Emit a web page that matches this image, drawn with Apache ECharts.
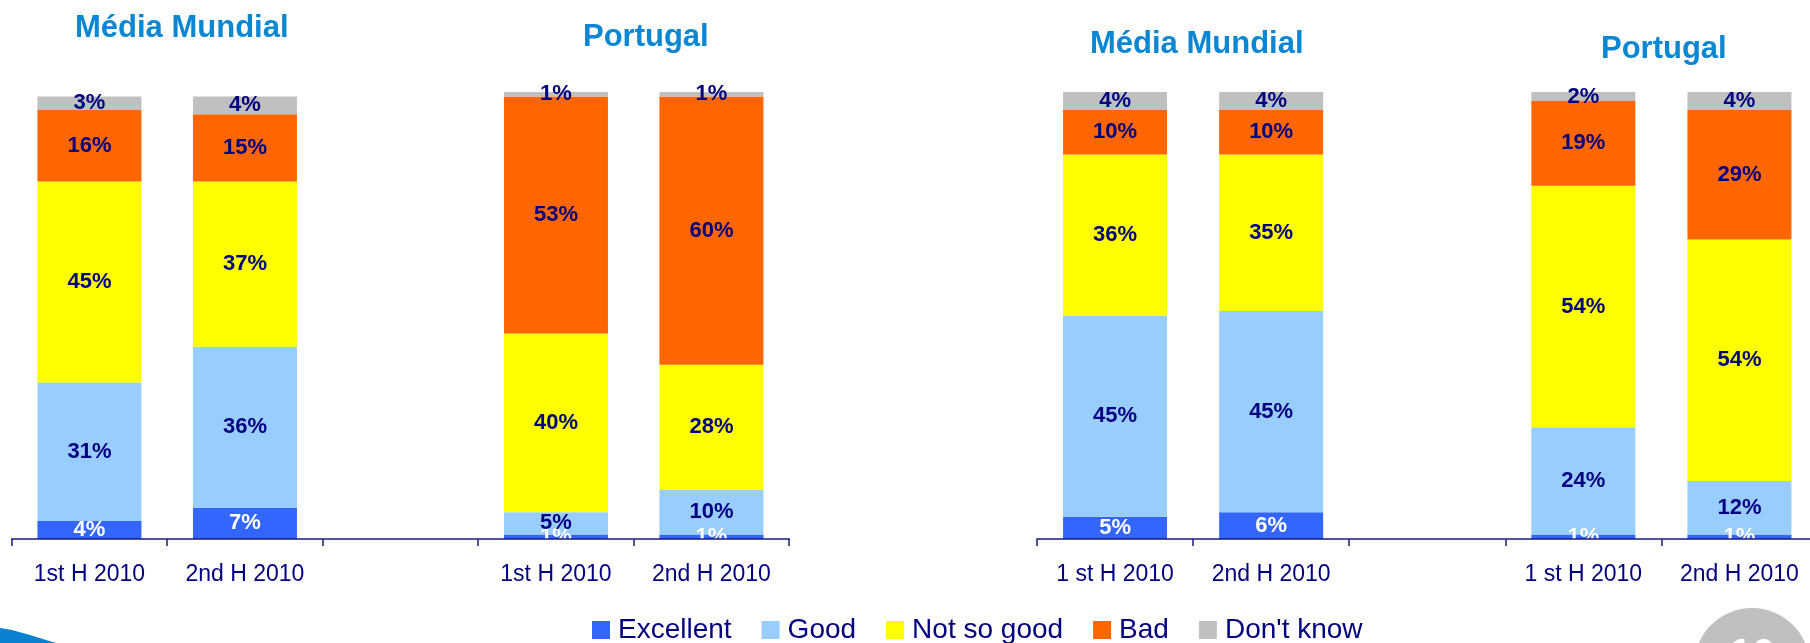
<!DOCTYPE html>
<html>
<head>
<meta charset="utf-8">
<script src="https://cdn.jsdelivr.net/npm/echarts@6/dist/echarts.min.js"></script>
<style>
html,body{margin:0;padding:0;background:#fff;}
#main{width:1810px;height:643px;}
</style>
</head>
<body>
<div id="main"></div>
<script>
// ---- data ----
const categoriesLeft = ['1st H 2010', '2nd H 2010', '', '1st H 2010', '2nd H 2010'];
const categoriesRight = ['1 st H 2010', '2nd H 2010', '', '1 st H 2010', '2nd H 2010'];
const seriesNames = ['Excellent', 'Good', 'Not so good', 'Bad', "Don't know"];
const titles = ['Média Mundial', 'Portugal', 'Média Mundial', 'Portugal'];

const excellentLeft = [4, 7, '-', 1, 1];
const goodLeft = [31, 36, '-', 5, 10];
const notSoGoodLeft = [45, 37, '-', 40, 28];
const badLeft = [16, 15, '-', 53, 60];
const dontKnowLeft = [3, 4, '-', 1, 1];

const excellentRight = [5, 6, '-', 1, 1];
const goodRight = [45, 45, '-', 24, 12];
const notSoGoodRight = [36, 35, '-', 54, 54];
const badRight = [10, 10, '-', 19, 29];
const dontKnowRight = [4, 4, '-', 2, 4];

// ---- styling ----
const colors = ['#3366FF', '#99CCFF', '#FFFF00', '#FF6600', '#C0C0C0'];
const navy = '#000080';
const font = "'Liberation Sans', Arial, sans-serif";

const leftData = [excellentLeft, goodLeft, notSoGoodLeft, badLeft, dontKnowLeft];
const rightData = [excellentRight, goodRight, notSoGoodRight, badRight, dontKnowRight];

function makeSeries(dataSets, gridIdx) {
  return dataSets.map((d, i) => ({
    name: seriesNames[i],
    type: 'bar',
    stack: 'S' + gridIdx,
    xAxisIndex: gridIdx,
    yAxisIndex: gridIdx,
    barWidth: 104,
    data: d,
    itemStyle: { color: colors[i] },
    label: {
      show: true,
      position: 'inside',
      formatter: '{c}%',
      fontFamily: font,
      fontSize: 22,
      fontWeight: 'bold',
      color: i === 0 ? '#FFFFFF' : navy,
      textBorderWidth: 0
    },
    emphasis: { disabled: true }
  }));
}

function makeXAxis(cats, gridIdx) {
  return {
    type: 'category',
    gridIndex: gridIdx,
    data: cats,
    boundaryGap: true,
    z: 5,
    axisLine: { show: true, lineStyle: { color: '#1A1A80', width: 1.5 } },
    axisTick: { show: true, length: 7, interval: 0, lineStyle: { color: '#1A1A80', width: 1.5 } },
    axisLabel: { interval: 0, color: navy, fontFamily: font, fontSize: 23, margin: 24 },
    splitLine: { show: false }
  };
}

function makeYAxis(gridIdx) {
  return {
    type: 'value', gridIndex: gridIdx, min: 0, max: 100, show: false,
    splitLine: { show: false }
  };
}

const titleLayout = [
  { left: 75, top: 13 },
  { left: 583, top: 22 },
  { left: 1090, top: 29 },
  { left: 1601, top: 34 }
];

const option = {
  animation: false,
  backgroundColor: '#FFFFFF',
  title: titles.map((t, i) => ({
    text: t,
    left: titleLayout[i].left,
    top: titleLayout[i].top,
    padding: 0,
    textStyle: { color: '#0A87D2', fontFamily: font, fontSize: 31, fontWeight: 'bold' }
  })),
  grid: [
    { left: 11.7, top: 92, width: 777.5, height: 447, outerBoundsMode: 'none', containLabel: false },
    { left: 1037, top: 92, width: 780.5, height: 447, outerBoundsMode: 'none', containLabel: false }
  ],
  xAxis: [makeXAxis(categoriesLeft, 0), makeXAxis(categoriesRight, 1)],
  yAxis: [makeYAxis(0), makeYAxis(1)],
  legend: {
    data: seriesNames,
    left: 592,
    top: 616,
    padding: 0,
    icon: 'rect',
    itemWidth: 18,
    itemHeight: 18,
    itemGap: 30,
    selectedMode: false,
    textStyle: { color: navy, fontFamily: font, fontSize: 28, padding: [0, 0, 0, 3] }
  },
  series: makeSeries(leftData, 0).concat(makeSeries(rightData, 1)),
  graphic: [
    {
      type: 'polygon',
      silent: true,
      shape: { points: [[0, 628], [12, 630], [30, 635], [46, 640], [56, 643], [0, 643]] },
      style: { fill: '#0A80D0' }
    },
    {
      type: 'circle',
      silent: true,
      shape: { cx: 1752, cy: 666, r: 58 },
      style: { fill: '#C0C0C0' }
    },
    {
      type: 'text',
      silent: true,
      style: {
        text: '10', x: 1752, y: 635, align: 'center', verticalAlign: 'top',
        fill: '#FFFFFF', font: "bold 42px 'Liberation Sans', Arial, sans-serif"
      }
    }
  ]
};

const chart = echarts.init(document.getElementById('main'), null, { renderer: 'canvas' });
chart.setOption(option);
</script>
</body>
</html>
